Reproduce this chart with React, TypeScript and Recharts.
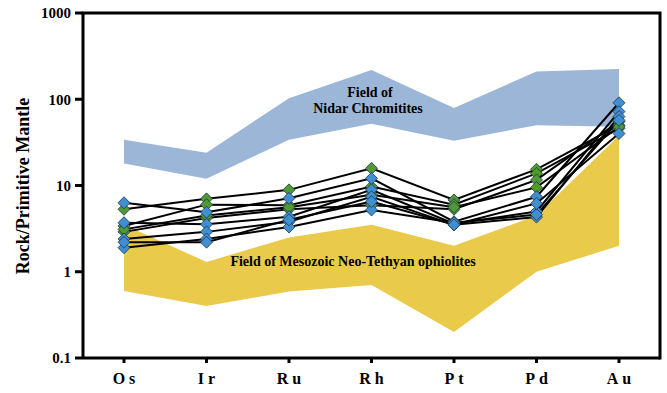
import {
  Area,
  ComposedChart,
  Line,
  XAxis,
  YAxis,
} from "recharts";

// PGE + Au normalised to primitive mantle
const elements = ["Os", "Ir", "Ru", "Rh", "Pt", "Pd", "Au"];
const yTicks = [0.1, 1, 10, 100, 1000];

// envelopes
const nidarLow = [18, 12, 34, 52, 33, 50, 48];
const nidarHigh = [34, 24, 103, 218, 79, 210, 224];
const ophioliteLow = [0.6, 0.4, 0.59, 0.7, 0.2, 1.0, 2.0];
const ophioliteHigh = [3.5, 1.3, 2.5, 3.5, 2.0, 4.5, 38];

// samples (green group)
const g1 = [5.3, 7.0, 8.9, 15.8, 6.8, 15.4, 50];
const g2 = [3.4, 6.0, 5.9, 9.7, 6.0, 13.8, 46];
const g3 = [2.9, 4.2, 5.3, 5.9, 5.3, 11.6, 55];
const g4 = [3.1, 4.5, 5.6, 7.8, 5.6, 9.5, 48];
// samples (blue group)
const b1 = [6.3, 4.9, 7.1, 12.1, 3.8, 7.4, 91];
const b2 = [3.7, 3.55, 4.35, 8.9, 3.6, 5.0, 72];
const b3 = [2.4, 2.9, 3.8, 7.4, 3.5, 4.3, 63];
const b4 = [1.9, 2.4, 3.3, 5.2, 3.7, 4.6, 57];
const b5 = [2.2, 2.2, 4.0, 6.5, 3.5, 6.2, 40];

const samples = [
  { key: "g1", values: g1, color: "#4f9a34" },
  { key: "g2", values: g2, color: "#4f9a34" },
  { key: "g3", values: g3, color: "#4f9a34" },
  { key: "g4", values: g4, color: "#4f9a34" },
  { key: "b1", values: b1, color: "#408fd3" },
  { key: "b2", values: b2, color: "#408fd3" },
  { key: "b3", values: b3, color: "#408fd3" },
  { key: "b4", values: b4, color: "#408fd3" },
  { key: "b5", values: b5, color: "#408fd3" },
];

const data = elements.map((el, i) => {
  const row: Record<string, unknown> = {
    element: el,
    nidar: [nidarLow[i], nidarHigh[i]],
    ophiolite: [ophioliteLow[i], ophioliteHigh[i]],
  };
  samples.forEach((s) => {
    row[s.key] = s.values[i];
  });
  return row;
});

const font = "'Liberation Serif', 'Times New Roman', serif";
const frame = { stroke: "#000", strokeWidth: 3 };

// plot box edges (chart margins + axis sizes)
const plotLeft = 83;
const plotTop = 13;
const plotRight = 660;
const plotBottom = 358;

const diamond = (fill: string) => (props: any) => {
  const { cx, cy, index } = props;
  if (cx == null || cy == null) return <g key={index} />;
  const r = 6;
  return (
    <path
      key={index}
      d={`M${cx},${cy - r} L${cx + r},${cy} L${cx},${cy + r} L${cx - r},${cy} Z`}
      fill={fill}
      stroke="#1f3447"
      strokeWidth={0.8}
    />
  );
};

export default function App() {
  return (
    <div style={{ position: "absolute", left: 0, top: 0, width: 667, height: 393, background: "#fff" }}>
      <ComposedChart
        width={667}
        height={393}
        data={data}
        margin={{ top: plotTop, right: 667 - plotRight, bottom: 0, left: 0 }}
      >
        <XAxis
          dataKey="element"
          padding={{ left: 41, right: 41 }}
          height={393 - plotBottom}
          axisLine={frame}
          tickLine={frame}
          tickSize={5}
          tickMargin={10}
          tick={{ fill: "#000", fontSize: 16, fontWeight: "bold", fontFamily: font, letterSpacing: 4, dx: 2 }}
        />
        <YAxis
          type="number"
          scale="log"
          domain={[0.1, 1000]}
          ticks={yTicks}
          allowDataOverflow
          width={plotLeft}
          tickFormatter={(v: number) => String(v)}
          axisLine={frame}
          tickLine={frame}
          tickSize={8}
          tickMargin={4}
          tick={{ fill: "#000", fontSize: 15, fontWeight: "bold", fontFamily: font }}
        />
        <Area
          type="linear"
          dataKey="nidar"
          stroke="none"
          fill="#9cb6d8"
          fillOpacity={1}
          isAnimationActive={false}
        />
        <Area
          type="linear"
          dataKey="ophiolite"
          stroke="none"
          fill="#e9ca4a"
          fillOpacity={1}
          isAnimationActive={false}
        />
        {samples.map((s) => (
          <Line
            key={`line-${s.key}`}
            type="linear"
            dataKey={s.key}
            stroke="#000"
            strokeWidth={2}
            dot={false}
            activeDot={false}
            isAnimationActive={false}
          />
        ))}
        {samples.map((s) => (
          <Line
            key={`dot-${s.key}`}
            type="linear"
            dataKey={s.key}
            stroke="none"
            dot={diamond(s.color)}
            activeDot={false}
            isAnimationActive={false}
          />
        ))}
      </ComposedChart>
      <svg
        width={667}
        height={393}
        style={{ position: "absolute", left: 0, top: 0, pointerEvents: "none" }}
        fontFamily={font}
        fontWeight="bold"
      >
        {/* top and right edges of the box */}
        <path
          d={`M${plotLeft - 1.5},${plotTop} H${plotRight} V${plotBottom + 1.5}`}
          fill="none"
          stroke="#000"
          strokeWidth={3}
        />
        <text
          transform="translate(29,186) rotate(-90)"
          textAnchor="middle"
          fontSize={18}
          fill="#000"
        >
          Rock/Primitive Mantle
        </text>
        <text x={370} y={97} textAnchor="middle" fontSize={14} fill="#000">
          Field of
        </text>
        <text x={368} y={113} textAnchor="middle" fontSize={14} fill="#000">
          Nidar Chromitites
        </text>
        <text x={353} y={266} textAnchor="middle" fontSize={14} fill="#000">
          Field of Mesozoic Neo-Tethyan ophiolites
        </text>
      </svg>
    </div>
  );
}
